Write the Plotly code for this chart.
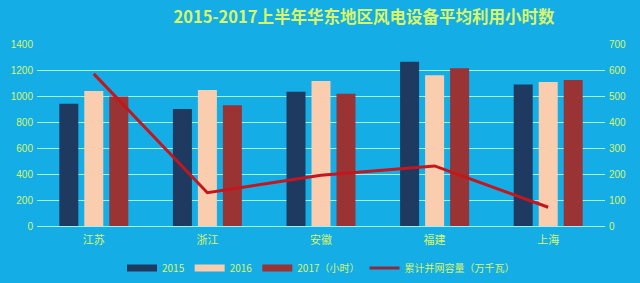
import plotly.graph_objects as go

categories = ["江苏", "浙江", "安徽", "福建", "上海"]
hours_2015 = [940, 900, 1032, 1264, 1088]
hours_2016 = [1038, 1046, 1115, 1160, 1108]
hours_2017 = [996, 928, 1018, 1213, 1123]
capacity = [585, 128, 195, 231, 72]

title_text = "2015-2017上半年华东地区风电设备平均利用小时数"
left_ticks = [0, 200, 400, 600, 800, 1000, 1200, 1400]
right_ticks = [0, 100, 200, 300, 400, 500, 600, 700]
series_names = ["2015", "2016", "2017（小时）"]
bar_colors = ["#1F3A60", "#F9CDAE", "#9A3333"]
line_name = "累计并网容量（万千瓦）"

BG = "#14ADE6"
TXT = "#D8F56A"
GRID = "#A6EEFA"
CJK = "Noto Sans CJK SC"
LINE_COLOR = "#C4161C"

fig = go.Figure()
for name, vals, col in zip(series_names, [hours_2015, hours_2016, hours_2017], bar_colors):
    fig.add_trace(go.Bar(name=name, x=categories, y=vals, showlegend=False,
                         marker=dict(color=col, line=dict(width=0))))
fig.add_trace(go.Scatter(name=line_name, x=categories, y=capacity, yaxis="y2", showlegend=False,
                         mode="lines", line=dict(color=LINE_COLOR, width=3)))

# legend entries (wide rectangular swatches like the reference)
for name, col in zip(series_names, bar_colors):
    fig.add_trace(go.Scatter(name=name, x=[None], y=[None], mode="lines",
                             line=dict(color=col, width=7), showlegend=True))
fig.add_trace(go.Scatter(name=line_name, x=[None], y=[None], mode="lines",
                         line=dict(color="#8E2A3C", width=3), showlegend=True))

fig.update_layout(
    width=640, height=283,
    paper_bgcolor=BG, plot_bgcolor=BG,
    margin=dict(l=37, r=35, t=44, b=57, autoexpand=False),
    barmode="group", bargap=0.34, bargroupgap=0.24,
    font=dict(family=CJK, color=TXT, size=10),
    title=dict(text="<b>" + title_text + "</b>", x=364 / 640, xanchor="center",
               y=1 - 17 / 283, yanchor="middle",
               font=dict(family=CJK, size=16.5, color=TXT)),
    xaxis=dict(showgrid=False, showline=False, ticks="", ticklabelstandoff=6,
               tickfont=dict(size=11, color=TXT, family=CJK)),
    yaxis=dict(range=[0, 1400], tickvals=left_ticks, showgrid=True, gridcolor=GRID, gridwidth=1,
               zeroline=True, zerolinecolor=GRID, zerolinewidth=1, ticklabelstandoff=3,
               tickfont=dict(size=10, color=TXT, family="Liberation Sans"), ticks=""),
    yaxis2=dict(range=[0, 700], tickvals=right_ticks, overlaying="y", side="right", showgrid=False,
                zeroline=False, ticklabelstandoff=3,
                tickfont=dict(size=10, color=TXT, family="Liberation Sans"), ticks=""),
    legend=dict(orientation="h", x=0.5, xanchor="center", yref="container", y=1 - 268 / 283,
                yanchor="middle", font=dict(size=10, color=TXT, family=CJK),
                bgcolor="rgba(0,0,0,0)", itemwidth=30, traceorder="normal"),
    showlegend=True,
)

fig.write_html("out.html")
